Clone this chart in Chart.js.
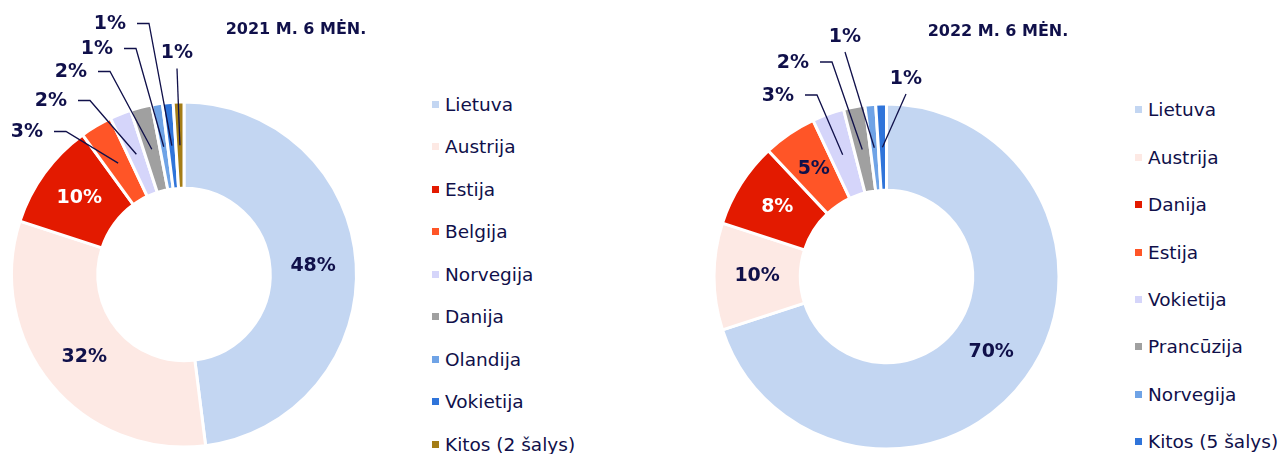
<!DOCTYPE html>
<html>
<head>
<meta charset="utf-8">
<script src="https://cdn.jsdelivr.net/npm/chart.js@4.4.0/dist/chart.umd.min.js"></script>
<style>
  body { margin: 0; background: #fff; width: 1283px; height: 454px; position: relative; overflow: hidden;
         font-family: "DejaVu Sans", Verdana, sans-serif; color: #10104a; }
  canvas { position: absolute; top: 0; }
  .title { position: absolute; width: 220px; text-align: center; font-weight: bold; font-size: 16px; line-height: 20px; white-space: nowrap; }
  .legend { position: absolute; }
  .legend .item { display: flex; align-items: center; font-size: 18.5px; white-space: nowrap; }
  .legend .box { width: 7px; height: 7px; margin-right: 6px; flex: none; }
</style>
</head>
<body>
<canvas id="chart2021" width="400" height="454" style="left:0"></canvas>
<canvas id="chart2022" width="460" height="454" style="left:640px"></canvas>
<div class="title" style="left:186px;top:19px">2021 M. 6 MĖN.</div>
<div class="title" style="left:888px;top:21px">2022 M. 6 MĖN.</div>
<div class="legend" id="legend2021" style="left:432px;top:82.75px"></div>
<div class="legend" id="legend2022" style="left:1135px;top:86.3px"></div>

<script>
// duomenys (procentai)
const labels2021 = ['Lietuva', 'Austrija', 'Estija', 'Belgija', 'Norvegija', 'Danija', 'Olandija', 'Vokietija', 'Kitos (2 šalys)'];
const values2021 = [48, 32, 10, 3, 2, 2, 1, 1, 1];

const labels2022 = ['Lietuva', 'Austrija', 'Danija', 'Estija', 'Vokietija', 'Prancūzija', 'Norvegija', 'Kitos (5 šalys)'];
const values2022 = [70, 10, 8, 5, 3, 2, 1, 1];

// spalvos
const colors2021 = ['#c3d6f2', '#fde9e4', '#e31a00', '#ff5527', '#d5d5fa', '#a0a0a0', '#6fa3e6', '#2f74da', '#a47d16'];
const colors2022 = ['#c3d6f2', '#fde9e4', '#e31a00', '#ff5527', '#d5d5fa', '#a0a0a0', '#6fa3e6', '#2f74da'];

const navy = '#10104a';

// išorinių etikečių vietos (nuo centro), null = etiketė segmento viduje
const callouts2021 = [null, null, null,
    {dx: -157, dy: -142, type: 'h'},
    {dx: -133, dy: -173, type: 'h'},
    {dx: -113, dy: -202, type: 'h'},
    {dx: -87, dy: -225, type: 'h'},
    {dx: -74, dy: -250, type: 'h'},
    {dx: -7, dy: -221, type: 'v'}];
const callouts2022 = [null, null, null, null,
    {dx: -108.5, dy: -180.5, type: 'h'},
    {dx: -93.5, dy: -213.5, type: 'h'},
    {dx: -41.5, dy: -239.5, type: 'v'},
    {dx: 19.5, dy: -197.5, type: 'v'}];

const pctLabels = {
    id: 'pctLabels',
    afterDatasetsDraw(chart, args, opts) {
        const ctx = chart.ctx;
        const meta = chart.getDatasetMeta(0);
        const values = chart.data.datasets[0].data;
        const total = values.reduce((a, b) => a + b, 0);
        ctx.save();
        ctx.font = 'bold 19px "DejaVu Sans"';
        ctx.textAlign = 'center';
        ctx.textBaseline = 'middle';
        meta.data.forEach((arc, i) => {
            const txt = Math.round(values[i] / total * 100) + '%';
            const p = arc.getCenterPoint();
            const c = opts.callouts[i];
            if (!c) {
                ctx.fillStyle = opts.whiteIdx.includes(i) ? '#ffffff' : navy;
                ctx.fillText(txt, p.x, p.y);
                return;
            }
            const tx = arc.x + c.dx, ty = arc.y + c.dy;
            ctx.fillStyle = navy;
            ctx.fillText(txt, tx, ty);
            ctx.strokeStyle = navy;
            ctx.lineWidth = 1.3;
            ctx.beginPath();
            if (c.type === 'h') {
                ctx.moveTo(tx + 27, ty - 1);
                ctx.lineTo(tx + 39, ty - 1);
            } else {
                ctx.moveTo(tx, ty + 15);
            }
            ctx.lineTo(p.x, p.y);
            ctx.stroke();
        });
        ctx.restore();
    }
};

function makeDonut(id, labels, values, colors, padding, callouts, whiteIdx) {
    const el = document.getElementById(id);
    if (!el) return;
    new Chart(el.getContext('2d'), {
        type: 'doughnut',
        data: {
            labels: labels,
            datasets: [{
                data: values,
                backgroundColor: colors,
                borderColor: '#ffffff',
                borderWidth: 3,
                hoverOffset: 0
            }]
        },
        options: {
            responsive: false,
            animation: false,
            events: [],
            cutout: '50%',
            layout: { padding: padding },
            plugins: {
                legend: { display: false },
                tooltip: { enabled: false },
                pctLabels: { callouts: callouts, whiteIdx: whiteIdx }
            }
        },
        plugins: [pctLabels]
    });
}

function makeLegend(id, labels, colors, rowHeight) {
    const box = document.getElementById(id);
    labels.forEach((lab, i) => {
        const item = document.createElement('div');
        item.className = 'item';
        item.style.height = rowHeight + 'px';
        const sq = document.createElement('span');
        sq.className = 'box';
        sq.style.background = colors[i];
        const t = document.createElement('span');
        t.textContent = lab;
        item.appendChild(sq);
        item.appendChild(t);
        box.appendChild(item);
    });
}

makeDonut('chart2021', labels2021, values2021, colors2021,
    {left: 10, top: 100.5, right: 42, bottom: 5.5}, callouts2021, [2]);
makeDonut('chart2022', labels2022, values2022, colors2022,
    {left: 72.5, top: 102.5, right: 39.5, bottom: 3.5}, callouts2022, [2]);

makeLegend('legend2021', labels2021, colors2021, 42.5);
makeLegend('legend2022', labels2022, colors2022, 47.4);
</script>
</body>
</html>
